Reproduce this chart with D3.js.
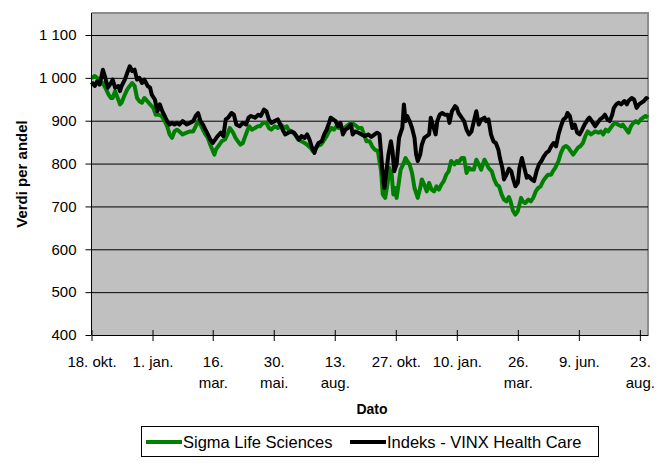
<!DOCTYPE html>
<html>
<head>
<meta charset="utf-8">
<script src="https://cdn.jsdelivr.net/npm/d3@7"></script>
<style>
  body { margin: 0; background: #fff; }
  svg text { font-family: Arial, "Liberation Sans", sans-serif; fill: #000; }
</style>
</head>
<body>
<svg id="chart" width="658" height="464"></svg>
<script>
// days after 18 Oct 2004, value per share
var sigma = [[0,1000],[4,1004],[7,1000],[10,992],[14,988],[18,973],[21,961],[24,953],[26,953],[29,969],[33,949],[35,938],[37,942],[41,961],[44,973],[47,981],[50,988],[53,981],[56,953],[59,945],[62,942],[65,953],[69,945],[72,938],[76,930],[79,914],[82,914],[86,911],[90,899],[93,887],[96,868],[99,860],[102,875],[105,879],[108,875],[112,868],[117,872],[121,875],[125,875],[128,887],[131,899],[134,891],[137,879],[140,868],[143,860],[146,844],[151,821],[153,833],[156,841],[160,852],[164,856],[167,868],[170,883],[174,872],[177,860],[180,852],[183,844],[186,848],[189,864],[192,879],[194,887],[197,879],[201,883],[204,887],[207,887],[211,895],[215,895],[218,883],[221,879],[225,887],[229,883],[233,891],[237,883],[240,887],[242,879],[246,875],[250,868],[254,856],[258,852],[262,848],[265,844],[269,837],[272,829],[275,833],[278,841],[282,844],[285,852],[289,864],[292,875],[295,883],[298,879],[301,887],[304,883],[307,887],[310,879],[313,887],[316,891],[319,895],[323,891],[326,887],[328,883],[332,883],[335,868],[338,852],[342,852],[345,840],[348,833],[352,829],[356,782],[358,728],[361,720],[364,755],[366,790],[369,774],[371,728],[373,743],[375,720],[378,759],[380,786],[383,798],[386,813],[388,806],[391,798],[394,778],[397,743],[401,720],[404,743],[406,763],[409,751],[412,735],[415,755],[418,739],[421,735],[424,747],[427,739],[430,751],[433,759],[436,774],[439,782],[442,806],[446,798],[449,806],[451,802],[455,813],[458,813],[461,778],[464,790],[467,786],[470,786],[473,809],[476,798],[479,786],[483,809],[485,802],[488,790],[492,782],[495,763],[498,751],[501,747],[504,728],[507,716],[510,712],[513,722],[515,712],[518,690],[521,681],[524,689],[528,720],[530,712],[533,708],[537,716],[540,712],[543,720],[546,735],[549,743],[552,747],[555,759],[558,767],[561,774],[565,774],[567,782],[570,790],[574,806],[577,825],[580,837],[583,841],[586,837],[589,829],[592,821],[595,829],[598,837],[601,841],[604,848],[607,864],[610,875],[614,868],[617,872],[619,875],[623,872],[626,875],[629,868],[632,879],[635,875],[638,883],[641,891],[644,895],[647,891],[651,887],[653,891],[656,883],[660,872],[663,887],[666,895],[669,899],[672,895],[675,903],[678,907],[681,911],[684,907]];

var vinx = [[0,990],[4,981],[7,992],[10,984],[14,1019],[17,1000],[20,977],[24,988],[26,996],[29,977],[33,981],[35,969],[37,981],[41,996],[44,1012],[47,1027],[50,1016],[53,1019],[56,996],[59,1000],[62,988],[65,996],[69,981],[72,977],[74,961],[78,949],[81,922],[84,938],[87,922],[90,911],[93,899],[96,891],[99,895],[102,891],[105,895],[108,891],[112,899],[117,891],[121,895],[125,899],[128,911],[131,918],[134,899],[137,891],[140,879],[143,868],[146,856],[149,848],[152,856],[155,864],[159,872],[162,864],[165,903],[168,907],[172,918],[175,914],[178,891],[182,887],[186,895],[190,891],[193,907],[196,911],[201,907],[205,914],[208,911],[212,926],[215,922],[218,903],[221,895],[225,899],[229,903],[232,891],[235,879],[238,868],[242,872],[246,875],[249,872],[252,864],[255,856],[258,864],[262,860],[265,868],[268,856],[271,837],[274,825],[276,837],[279,848],[283,852],[286,868],[289,879],[292,895],[294,907],[297,903],[300,899],[303,887],[306,895],[309,868],[312,879],[315,883],[319,891],[321,868],[324,875],[328,872],[332,868],[336,864],[340,868],[344,862],[348,868],[351,872],[354,868],[356,821],[358,774],[360,743],[362,774],[365,821],[368,852],[370,829],[372,782],[375,798],[378,860],[380,872],[382,883],[384,938],[386,899],[388,911],[391,899],[394,883],[397,860],[399,821],[401,806],[404,821],[406,844],[409,860],[412,864],[415,868],[417,907],[420,887],[423,868],[425,899],[428,914],[431,918],[434,914],[438,914],[440,895],[443,922],[447,934],[449,930],[451,918],[455,907],[458,899],[461,879],[464,868],[467,875],[470,899],[473,922],[476,891],[479,903],[483,907],[485,899],[488,903],[491,868],[494,852],[497,848],[500,833],[502,813],[505,790],[507,763],[510,774],[513,788],[516,782],[518,766],[521,747],[524,755],[526,790],[529,813],[532,790],[535,767],[537,771],[541,763],[544,759],[547,782],[550,798],[553,806],[556,817],[559,825],[562,829],[565,840],[568,848],[571,840],[574,868],[577,887],[580,903],[583,907],[585,918],[588,911],[591,883],[594,891],[597,872],[600,868],[603,879],[606,891],[610,903],[612,907],[615,899],[619,887],[622,895],[625,903],[628,907],[631,914],[634,903],[637,899],[640,914],[642,930],[645,938],[648,942],[651,938],[655,946],[658,938],[660,946],[664,953],[667,949],[670,930],[673,938],[676,942],[679,946],[682,953],[684,949]];

var seriesNames = ["Sigma Life Sciences", "Indeks - VINX Health Care"];
var seriesColors = ["#008000", "#000000"];

var yTicks = [400, 500, 600, 700, 800, 900, 1000, 1100];
var xTickDates = ["2004-10-18","2005-01-01","2005-03-16","2005-05-30","2005-08-13",
                  "2005-10-27","2006-01-10","2006-03-26","2006-06-09","2006-08-23"];
var xTickLabels = [["18. okt."],["1. jan."],["16.","mar."],["30.","mai."],["13.","aug."],
                   ["27. okt."],["10. jan."],["26.","mar."],["9. jun."],["23.","aug."]];

var start = new Date(Date.UTC(2004, 9, 18));
var plotL = 91.5, plotR = 648, plotT = 13, plotB = 335;

var svg = d3.select("#chart");

var x = d3.scaleUtc()
    .domain([start, d3.utcDay.offset(start, 684)])
    .range([plotL, plotR]);
var y = d3.scaleLinear()
    .domain([400, 1100])
    .range([plotB, 35]);

// plot area
svg.append("rect")
    .attr("x", plotL).attr("y", plotT)
    .attr("width", plotR - plotL).attr("height", plotB - plotT)
    .attr("fill", "#c0c0c0");
svg.append("path")
    .attr("d", "M" + plotL + "," + plotT + "H" + plotR + "V" + plotB)
    .attr("fill", "none")
    .attr("stroke", "#8c8c8c")
    .attr("stroke-width", 2);

// gridlines
svg.append("g")
    .attr("transform", "translate(" + plotL + ",0)")
    .call(d3.axisLeft(y).tickValues(yTicks.slice(1)).tickSize(-(plotR - plotL)).tickFormat(""))
    .call(function (g) { g.select(".domain").remove(); })
    .selectAll("line").attr("stroke", "#000");

// lines
var line = d3.line()
    .x(function (d) { return x(d3.utcDay.offset(start, d[0])); })
    .y(function (d) { return y(d[1]); });

[sigma, vinx].forEach(function (s, i) {
    svg.append("path")
        .datum(s)
        .attr("d", line)
        .attr("fill", "none")
        .attr("stroke", seriesColors[i])
        .attr("stroke-width", 4)
        .attr("stroke-linejoin", "round");
});

// y axis
var nb = d3.formatLocale({ decimal: ",", thousands: " ", grouping: [3], currency: ["", ""] });
var yAxis = svg.append("g")
    .attr("transform", "translate(" + plotL + ",0)")
    .call(d3.axisLeft(y).tickValues(yTicks).tickSize(6).tickSizeOuter(0).tickPadding(9)
        .tickFormat(nb.format(",")));
yAxis.select(".domain").attr("d", "M0," + plotT + "V" + plotB).attr("stroke", "#000");
yAxis.selectAll("text").style("font-size", "15px");

// x axis
var xAxis = svg.append("g")
    .attr("transform", "translate(0," + plotB + ")")
    .call(d3.axisBottom(x)
        .tickValues(xTickDates.map(function (s) { return new Date(s + "T00:00:00Z"); }))
        .tickSize(6).tickSizeOuter(0).tickFormat(""));
xAxis.select(".domain").attr("stroke", "#000");
xAxis.selectAll(".tick line").attr("y1", -5);
xAxis.selectAll(".tick").each(function (d, i) {
    var t = d3.select(this).append("text")
        .attr("text-anchor", "middle")
        .attr("y", 32)
        .style("font-size", "15px");
    xTickLabels[i].forEach(function (s, k) {
        t.append("tspan").attr("x", 0).attr("dy", k ? 21 : 0).text(s);
    });
});

// axis titles
svg.append("text")
    .attr("transform", "translate(27," + ((plotT + plotB) / 2) + ") rotate(-90)")
    .attr("text-anchor", "middle")
    .style("font-size", "15px").style("font-weight", "bold")
    .text("Verdi per andel");
svg.append("text")
    .attr("x", 372).attr("y", 414)
    .attr("text-anchor", "middle")
    .style("font-size", "14px").style("font-weight", "bold")
    .text("Dato");

// legend
var legend = svg.append("g");
legend.append("rect")
    .attr("x", 141.5).attr("y", 426.5)
    .attr("width", 457).attr("height", 30)
    .attr("fill", "#fff").attr("stroke", "#000");
var legendX = [146, 350];
seriesNames.forEach(function (n, i) {
    var g = legend.append("g").attr("transform", "translate(" + legendX[i] + ",442)");
    g.append("line").attr("x1", 0).attr("x2", 36)
        .attr("stroke", seriesColors[i]).attr("stroke-width", 4);
    g.append("text").attr("x", 37).attr("y", 6)
        .style("font-size", "16.5px")
        .text(n);
});
</script>
</body>
</html>
